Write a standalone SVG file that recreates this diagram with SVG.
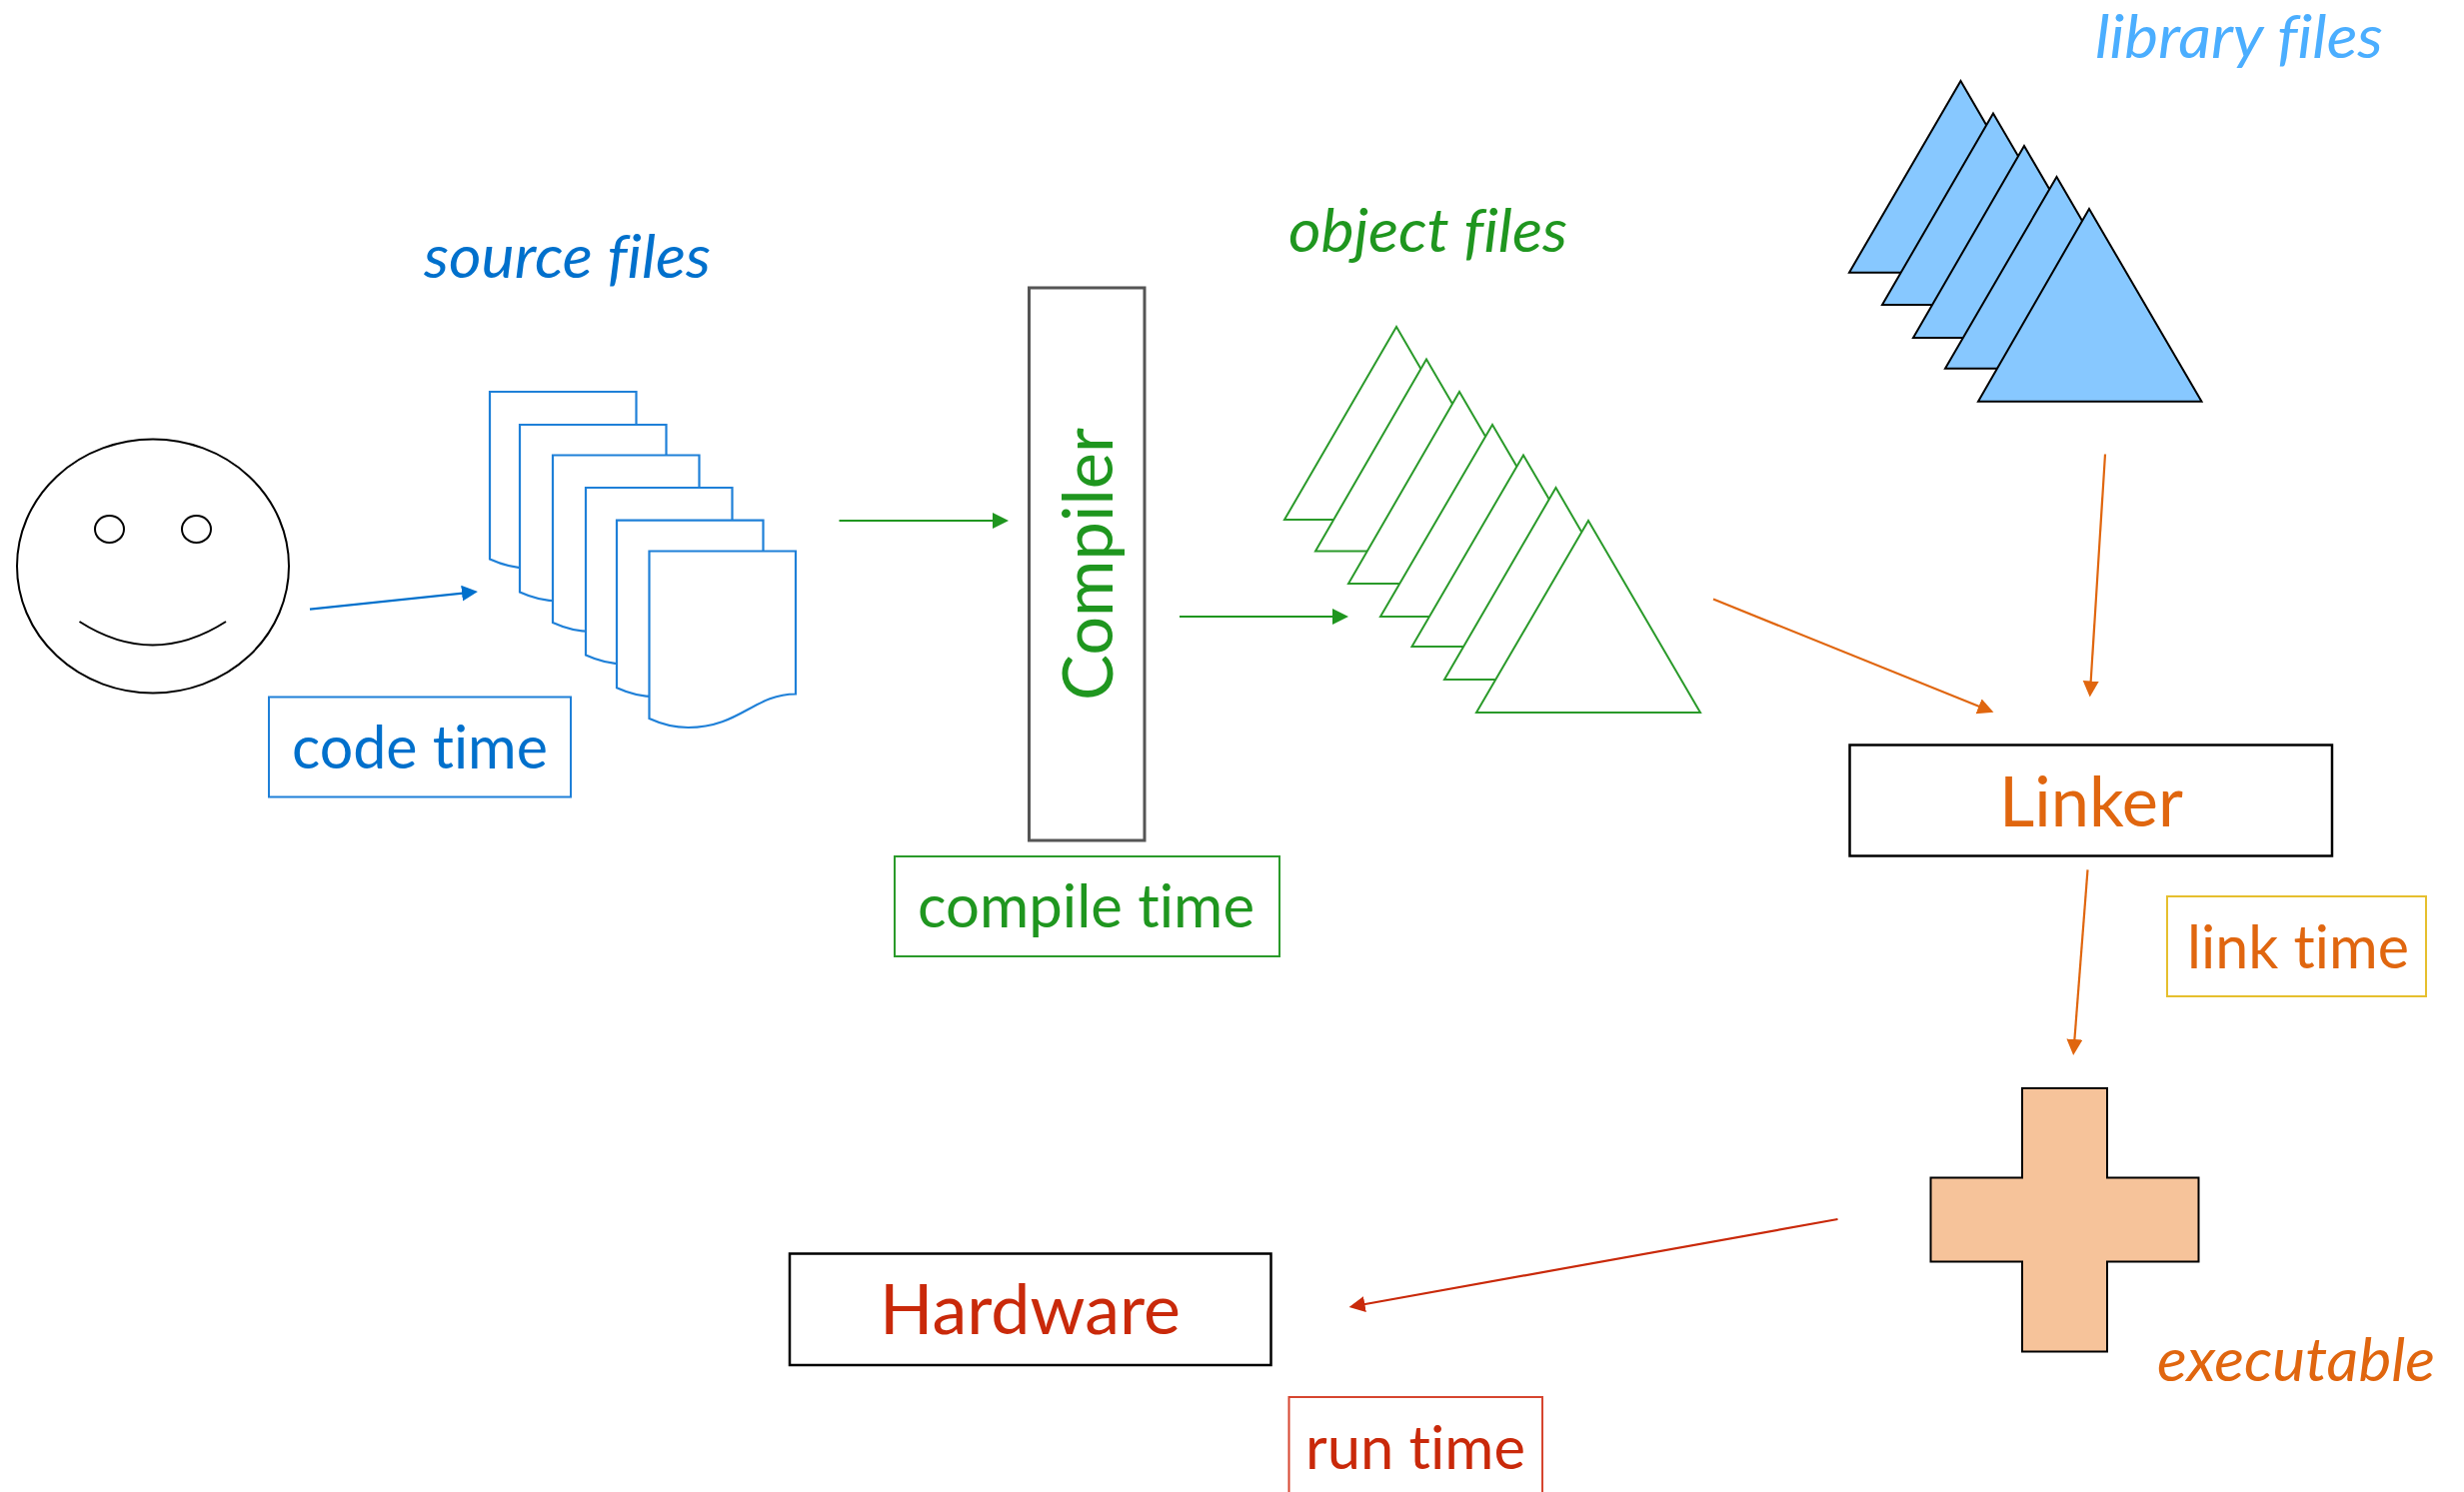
<svg xmlns="http://www.w3.org/2000/svg" width="2465" height="1493" viewBox="0 0 2465 1493">
<style>
text{font-family:"Lato","Liberation Sans",sans-serif;font-variant-ligatures:none}
.t{font-size:60px}
.i{font-style:italic;font-size:60px}
.blue{fill:#0070cc}.green{fill:#1f961f}.lib{fill:#4baeff}.orange{fill:#e0660f}.red{fill:#c9290a}
.box{fill:#fff;stroke-width:2}
.blk{fill:#fff;stroke:#000;stroke-width:2.5}
.doc{fill:#fff;stroke:#1f80d8;stroke-width:2.2}
.ot{fill:#fff;stroke:#2a9a2a;stroke-width:2}
.lt{fill:#87c8ff;stroke:#000;stroke-width:2}
.face{fill:none;stroke:#000;stroke-width:2}
line{stroke-width:2.2;fill:none}
</style>
<defs>
<marker id="ab" markerUnits="userSpaceOnUse" markerWidth="18" markerHeight="18" refX="8" refY="8" orient="auto"><path d="M0,0L16,8L0,16Z" fill="#0070cc"/></marker>
<marker id="ag" markerUnits="userSpaceOnUse" markerWidth="18" markerHeight="18" refX="8" refY="8" orient="auto"><path d="M0,0L16,8L0,16Z" fill="#1f961f"/></marker>
<marker id="ao" markerUnits="userSpaceOnUse" markerWidth="18" markerHeight="18" refX="8" refY="8" orient="auto"><path d="M0,0L16,8L0,16Z" fill="#e0660f"/></marker>
<marker id="ar" markerUnits="userSpaceOnUse" markerWidth="18" markerHeight="18" refX="8" refY="8" orient="auto"><path d="M0,0L16,8L0,16Z" fill="#c9290a"/></marker>
<path id="d" d="M0,0H146.500V143C105,143 90,176.500 39,176.500C25,176.500 12,173 0,167.500Z"/>
</defs>
<g id="face" class="face">
<ellipse cx="153" cy="566.500" rx="136" ry="127"/>
<ellipse cx="109.500" cy="529.500" rx="14.500" ry="13.500"/>
<ellipse cx="196.500" cy="529.500" rx="14.500" ry="13.500"/>
<path d="M79.500,622Q152.700,669 226,622"/>
</g>
<g id="source-files">
<use href="#d" x="490" y="392" class="doc"/>
<use href="#d" x="520" y="425" class="doc"/>
<use href="#d" x="553" y="455.500" class="doc"/>
<use href="#d" x="586" y="488" class="doc"/>
<use href="#d" x="617" y="520.700" class="doc"/>
<use href="#d" x="649.500" y="551.500" class="doc"/>
<text x="424" y="278" class="i blue" textLength="287" lengthAdjust="spacingAndGlyphs">source files</text>
</g>
<g id="code-time">
<rect x="269" y="697.500" width="302" height="100" class="box" stroke="#1f80d8"/>
<text x="292" y="768.500" class="t blue" textLength="256" lengthAdjust="spacingAndGlyphs">code time</text>
</g>
<g id="compiler">
<rect x="1029.500" y="288" width="115.500" height="553" class="box" stroke="#555" style="stroke-width:3"/>
<text transform="translate(1112.500 701) rotate(-90)" class="t green" textLength="273" lengthAdjust="spacingAndGlyphs" style="font-size:70px">Compiler</text>
</g>
<g id="compile-time">
<rect x="895" y="857" width="385" height="100" class="box" stroke="#2a9a2a"/>
<text x="918" y="927.500" class="t green" textLength="337" lengthAdjust="spacingAndGlyphs">compile time</text>
</g>
<g id="object-files">
<path class="ot" d="M1397,327L1509,520H1285Z"/>
<path class="ot" d="M1427,359.500L1539,551.500H1316Z"/>
<path class="ot" d="M1460,392L1572,584H1349Z"/>
<path class="ot" d="M1493,425L1605,617H1381Z"/>
<path class="ot" d="M1524,455.500L1636,647H1412.500Z"/>
<path class="ot" d="M1556.500,488L1668,680H1445Z"/>
<path class="ot" d="M1589,521L1701,713H1477Z"/>
<text x="1289" y="252" class="i green" textLength="279" lengthAdjust="spacingAndGlyphs">object files</text>
</g>
<g id="library-files">
<path class="lt" d="M1961.500,81L2073,272.700H1850Z"/>
<path class="lt" d="M1994,113.500L2106,305H1883Z"/>
<path class="lt" d="M2025,146L2137,338H1914Z"/>
<path class="lt" d="M2057.500,177L2169,368.700H1946Z"/>
<path class="lt" d="M2090,209L2202.500,401.700H1979Z"/>
<text x="2096" y="58" class="i lib" textLength="288" lengthAdjust="spacingAndGlyphs">library files</text>
</g>
<g id="linker">
<rect x="1850.500" y="745.500" width="482.500" height="111" class="blk"/>
<text x="2000" y="826.500" class="t orange" textLength="184" lengthAdjust="spacingAndGlyphs" style="font-size:70px">Linker</text>
</g>
<g id="link-time">
<rect x="2168" y="897" width="259" height="100" class="box" stroke="#e6bf2e"/>
<text x="2188" y="968.500" class="t orange" textLength="222" lengthAdjust="spacingAndGlyphs">link time</text>
</g>
<g id="executable">
<path d="M2023,1089H2108V1178.500H2199.500V1262.500H2108V1352.500H2023V1262.500H1931.500V1178.500H2023Z" fill="#f6c39a" stroke="#000" stroke-width="2"/>
<text x="2158" y="1381.500" class="i orange" textLength="278" lengthAdjust="spacingAndGlyphs">executable</text>
</g>
<g id="hardware">
<rect x="790" y="1254.500" width="481.500" height="111.500" class="blk"/>
<text x="880" y="1335" class="t red" textLength="301" lengthAdjust="spacingAndGlyphs" style="font-size:70px">Hardware</text>
</g>
<g id="run-time">
<rect x="1289.500" y="1398" width="253.500" height="120" class="box" stroke="#d6452f"/>
<text x="1306" y="1470" class="t red" textLength="220" lengthAdjust="spacingAndGlyphs">run time</text>
</g>
<g id="connectors">
<line x1="310" y1="609.600" x2="470" y2="592.800" stroke="#0070cc" marker-end="url(#ab)"/>
<line x1="839.500" y1="521" x2="1001" y2="521" stroke="#1f961f" marker-end="url(#ag)"/>
<line x1="1180" y1="617" x2="1341" y2="617" stroke="#1f961f" marker-end="url(#ag)"/>
<line x1="1714" y1="599.600" x2="1987" y2="709.800" stroke="#e0660f" marker-end="url(#ao)"/>
<line x1="2106" y1="454.500" x2="2091.200" y2="689.500" stroke="#e0660f" marker-end="url(#ao)"/>
<line x1="2088.500" y1="870.400" x2="2074.800" y2="1048" stroke="#e0660f" marker-end="url(#ao)"/>
<line x1="1838.500" y1="1220" x2="1357.500" y2="1306.500" stroke="#c9290a" marker-end="url(#ar)"/>
</g>
</svg>
